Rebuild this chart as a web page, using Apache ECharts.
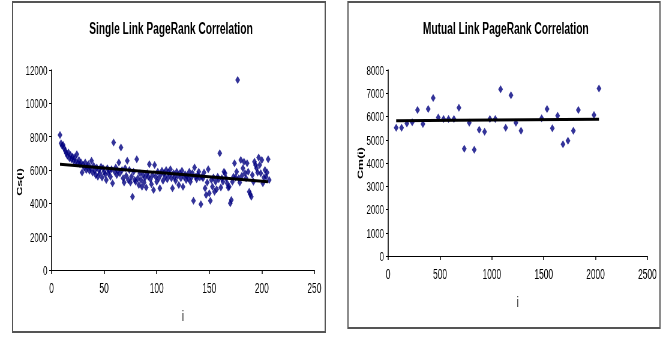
<!DOCTYPE html>
<html>
<head>
<meta charset="utf-8">
<script src="https://cdn.jsdelivr.net/npm/echarts@6/dist/echarts.min.js"></script>
<style>
  html, body { margin: 0; padding: 0; background: #fff; overflow: hidden; }
  #wrap { width: 670px; height: 337px; overflow: hidden; position: relative; }
  /* the charts are laid out on a wider canvas and squeezed horizontally */
  #chart { width: 1117px; height: 337px; transform: scaleX(0.6); transform-origin: 0 0; will-change: transform; }
</style>
</head>
<body>
<div id="wrap"><div id="chart"></div></div>
<script>
// ---- Single link: Cs(i) for i = 8 .. 207 ----
const singleStartI = 8;
const singleCs = [
  8100, 7600, 7450, 7500, 7300, 7150, 7000, 6850, 7050, 6700,
  6900, 6650, 6800, 6550, 6750, 6500, 6950, 6400, 6600, 6350,
  6450, 5850, 6300, 6150, 6450, 6000, 6200, 6350, 5950, 6100,
  6550, 5850, 6250, 5950, 5700, 6150, 5600, 6000, 5800, 6200,
  5550, 6100, 5900, 5750, 5400, 6100, 5800, 5950, 5600, 6050,
  5200, 7650, 5900, 6150, 5700, 5950, 6450, 5800, 7350, 6000,
  5500, 5250, 6100, 5650, 6550, 5400, 6000, 5250, 5600, 4400,
  5900, 5400, 5300, 6650, 5500, 5100, 5800, 5400, 5000, 5700,
  5250, 5550, 4950, 5800, 5600, 6350, 5450, 5150, 5700, 4800,
  6300, 5600, 5300, 5900, 5500, 4900, 5750, 5950, 5350, 5800,
  5600, 6000, 5450, 5850, 5700, 6050, 5500, 4900, 5800, 5550,
  5350, 5900, 5650, 5100, 5800, 5500, 5950, 5000, 5600, 5750,
  5400, 5650, 5500, 5900, 5300, 5550, 5800, 4150, 6150, 5600,
  5450, 5700, 5900, 5550, 3950, 5600, 5500, 5850, 4900, 4500,
  5250, 6050, 4600, 4150, 5400, 5000, 5550, 4700, 5300, 4850,
  5600, 5450, 7000, 4950, 5500, 5300, 5900, 5800, 5500, 5200,
  4950, 5000, 4000, 4200, 5300, 5600, 6400, 5550, 5900, 11400,
  5500, 5250, 6600, 5650, 6100, 6500, 5800, 5500, 6400, 5900,
  4700, 4550, 4400, 5700, 5300, 6500, 6300, 6100, 5850, 6750,
  6300, 5800, 6600, 5200, 5550, 6000, 5600, 5850, 6650, 5400
];
const singleTrendI = [8, 206];
const singleTrendCs = [6340, 5300];

// ---- Mutual link: Cm(i) ----
const mutualI = [
  77, 129, 180, 232, 283, 335, 386, 434, 483, 534,
  582, 634, 682, 734, 782, 830, 878, 930, 981, 1033,
  1084, 1133, 1184, 1232, 1281, 1480, 1532, 1583, 1634, 1686,
  1734, 1786, 1834, 1985, 2033
];
const mutualCm = [
  5520, 5520, 5700, 5750, 6280, 5680, 6320, 6800, 5960, 5890,
  5890, 5890, 6380, 4610, 5730, 4570, 5430, 5340, 5890, 5890,
  7170, 5520, 6910, 5730, 5390, 5920, 6320, 5490, 6030, 4810,
  4960, 5390, 6280, 6060, 7200
];
const mutualTrendI = [77, 2033];
const mutualTrendCm = [5820, 5880];

// ---- tick settings ----
const singleXTicks = { min: 0, max: 250, interval: 50 };
const singleYTicks = { min: 0, max: 12000, interval: 2000 };
const mutualXTicks = { min: 0, max: 2500, interval: 500 };
const mutualYTicks = { min: 0, max: 8000, interval: 1000 };

const FONT = "'Liberation Sans', Arial, sans-serif";
const NAVY = '#000080';

const singlePoints = singleCs.map((v, k) => [singleStartI + k, v]);
const mutualPoints = mutualI.map((x, k) => [x, mutualCm[k]]);
const pairs = (xs, ys) => xs.map((x, k) => [x, ys[k]]);
const plain = v => String(v);

function xAxisCfg(t, gridIndex, gap) {
  return {
    type: 'value', gridIndex, min: t.min, max: t.max, interval: t.interval,
    name: 'i', nameLocation: 'middle', nameGap: gap,
    nameTextStyle: { fontFamily: FONT, fontSize: 15, color: '#222' },
    axisLine: { lineStyle: { color: '#000', width: 1 } },
    axisTick: { show: true, inside: false, length: 4, lineStyle: { color: '#000', width: 1.5 } },
    axisLabel: { fontFamily: FONT, fontSize: 14, color: '#000', margin: 11, formatter: plain },
    splitLine: { show: false }
  };
}
function yAxisCfg(t, gridIndex, name, gap, shift) {
  return {
    type: 'value', gridIndex, min: t.min, max: t.max, interval: t.interval,
    name, nameLocation: 'middle', nameGap: gap,
    nameTextStyle: { fontFamily: FONT, fontSize: 12.5, fontWeight: 'bold', color: '#000',
      padding: [0, shift, 0, 0] },
    axisLine: { show: true, lineStyle: { color: '#000', width: 1.6 } },
    axisTick: { show: true, inside: false, length: 4, lineStyle: { color: '#000', width: 1 } },
    axisLabel: { fontFamily: FONT, fontSize: 13, color: '#000', margin: 7, formatter: plain },
    splitLine: { show: false }
  };
}

const chart = echarts.init(document.getElementById('chart'), null, { renderer: 'svg' });
chart.setOption({
  animation: false,
  backgroundColor: '#fff',
  title: [
    { text: 'Single Link PageRank Correlation', left: 280, top: 14, textAlign: 'center',
      textStyle: { fontFamily: FONT, fontSize: 17, fontWeight: 'bold', color: '#000' } },
    { text: 'Mutual Link PageRank Correlation', left: 838, top: 14, textAlign: 'center',
      textStyle: { fontFamily: FONT, fontSize: 17, fontWeight: 'bold', color: '#000' } }
  ],
  graphic: [
    { type: 'rect', shape: { x: 21, y: 2, width: 521, height: 330 },
      style: { fill: 'none', stroke: '#555', lineWidth: 2 }, silent: true },
    { type: 'rect', shape: { x: 580, y: 2, width: 520, height: 326 },
      style: { fill: 'none', stroke: '#555', lineWidth: 2 }, silent: true }
  ],
  grid: [
    { left: 86, right: 593, top: 70, bottom: 67 },
    { left: 647, right: 38, top: 70, bottom: 81 }
  ],
  xAxis: [xAxisCfg(singleXTicks, 0, 39), xAxisCfg(mutualXTicks, 1, 39)],
  yAxis: [yAxisCfg(singleYTicks, 0, 'Cs(i)', 46, 24), yAxisCfg(mutualYTicks, 1, 'Cm(i)', 40, 0)],
  series: [
    { type: 'scatter', xAxisIndex: 0, yAxisIndex: 0, data: singlePoints,
      symbol: 'diamond', symbolSize: [8, 8], itemStyle: { color: NAVY } },
    { type: 'line', xAxisIndex: 0, yAxisIndex: 0, data: pairs(singleTrendI, singleTrendCs),
      showSymbol: false, lineStyle: { color: '#000', width: 3 }, z: 3 },
    { type: 'scatter', xAxisIndex: 1, yAxisIndex: 1, data: mutualPoints,
      symbol: 'diamond', symbolSize: [8, 8], itemStyle: { color: NAVY } },
    { type: 'line', xAxisIndex: 1, yAxisIndex: 1, data: pairs(mutualTrendI, mutualTrendCm),
      showSymbol: false, lineStyle: { color: '#000', width: 3 }, z: 3 }
  ]
});
</script>
</body>
</html>
